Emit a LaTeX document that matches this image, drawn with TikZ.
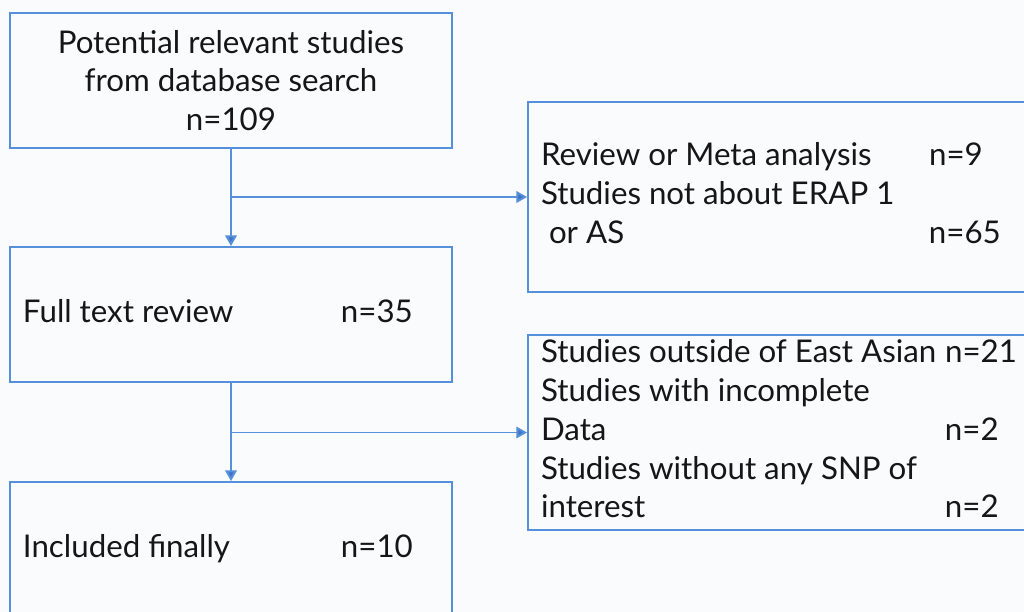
\documentclass[tikz,border=0pt]{standalone}
\usepackage{fontspec}
\setmainfont{Lato}
\usepackage{array}
\usetikzlibrary{arrows.meta, positioning, calc}
\definecolor{FlowBlue}{HTML}{5690DA}
\definecolor{FlowArrow}{HTML}{3E72C6}
\definecolor{FlowText}{HTML}{161616}
\definecolor{FlowPaper}{HTML}{FAFBFD}
\tikzset{
    % Node styles
    stagebox/.style={
        rectangle,
        draw=FlowBlue,
        fill=FlowPaper,
        line width=1.1pt,
        minimum width=8.84cm,
        minimum height=2.7cm,
        inner sep=0pt,
        text=FlowText,
        font=\fontsize{17.8}{22.1}\selectfont
    },
    exclbox/.style={
        stagebox,
        minimum width=9.96cm,
        minimum height=3.8cm
    },
    % Arrow styles
    myarrow/.style={
        -{Triangle[length=6pt,width=6.5pt,fill=FlowArrow]},
        line width=1.1pt,
        FlowBlue
    }
}

\begin{document}
\begin{tikzpicture}
    \useasboundingbox[fill=FlowPaper] (0,0) rectangle (20.48,12.24);

    % Main stages
    \node[stagebox,align=center] (search) at (4.62,10.63) {Potential relevant studies\\from database search\\n=109};
    \node[stagebox] (fulltext) at (4.62,5.95) {\begin{tabular}{@{}p{6.36cm}@{}p{1.96cm}@{}}Full text review & n=35\end{tabular}};
    \node[stagebox] (included) at (4.62,1.25) {\begin{tabular}{@{}p{6.36cm}@{}p{1.96cm}@{}}Included finally & n=10\end{tabular}};

    % Excluded studies
    \node[exclbox] (excl1) at (15.54,8.30) {\begin{tabular}{@{}p{7.76cm}@{}p{1.68cm}@{}}
        Review or Meta analysis & n=9\\
        Studies not about ERAP 1 & \\
        \ or AS & n=65
    \end{tabular}};
    \node[exclbox,minimum height=3.78cm] (excl2) at (15.54,3.59) {\begin{tabular}{@{}p{8.08cm}@{}p{1.36cm}@{}}
        Studies outside of East Asian & n=21\\
        Studies with incomplete & \\
        Data & n=2\\
        Studies without any SNP of & \\
        interest & n=2
    \end{tabular}};

    % Branch points
    \coordinate (b1) at (search.south |- excl1.west);
    \coordinate (b2) at (fulltext.south |- excl2.west);

    % Arrows
    \draw[myarrow] (search.south) -- (fulltext.north);
    \draw[myarrow] (b1) -- (excl1.west);
    \draw[myarrow] (fulltext.south) -- (included.north);
    \draw[myarrow] (b2) -- (excl2.west);
\end{tikzpicture}
\end{document}
